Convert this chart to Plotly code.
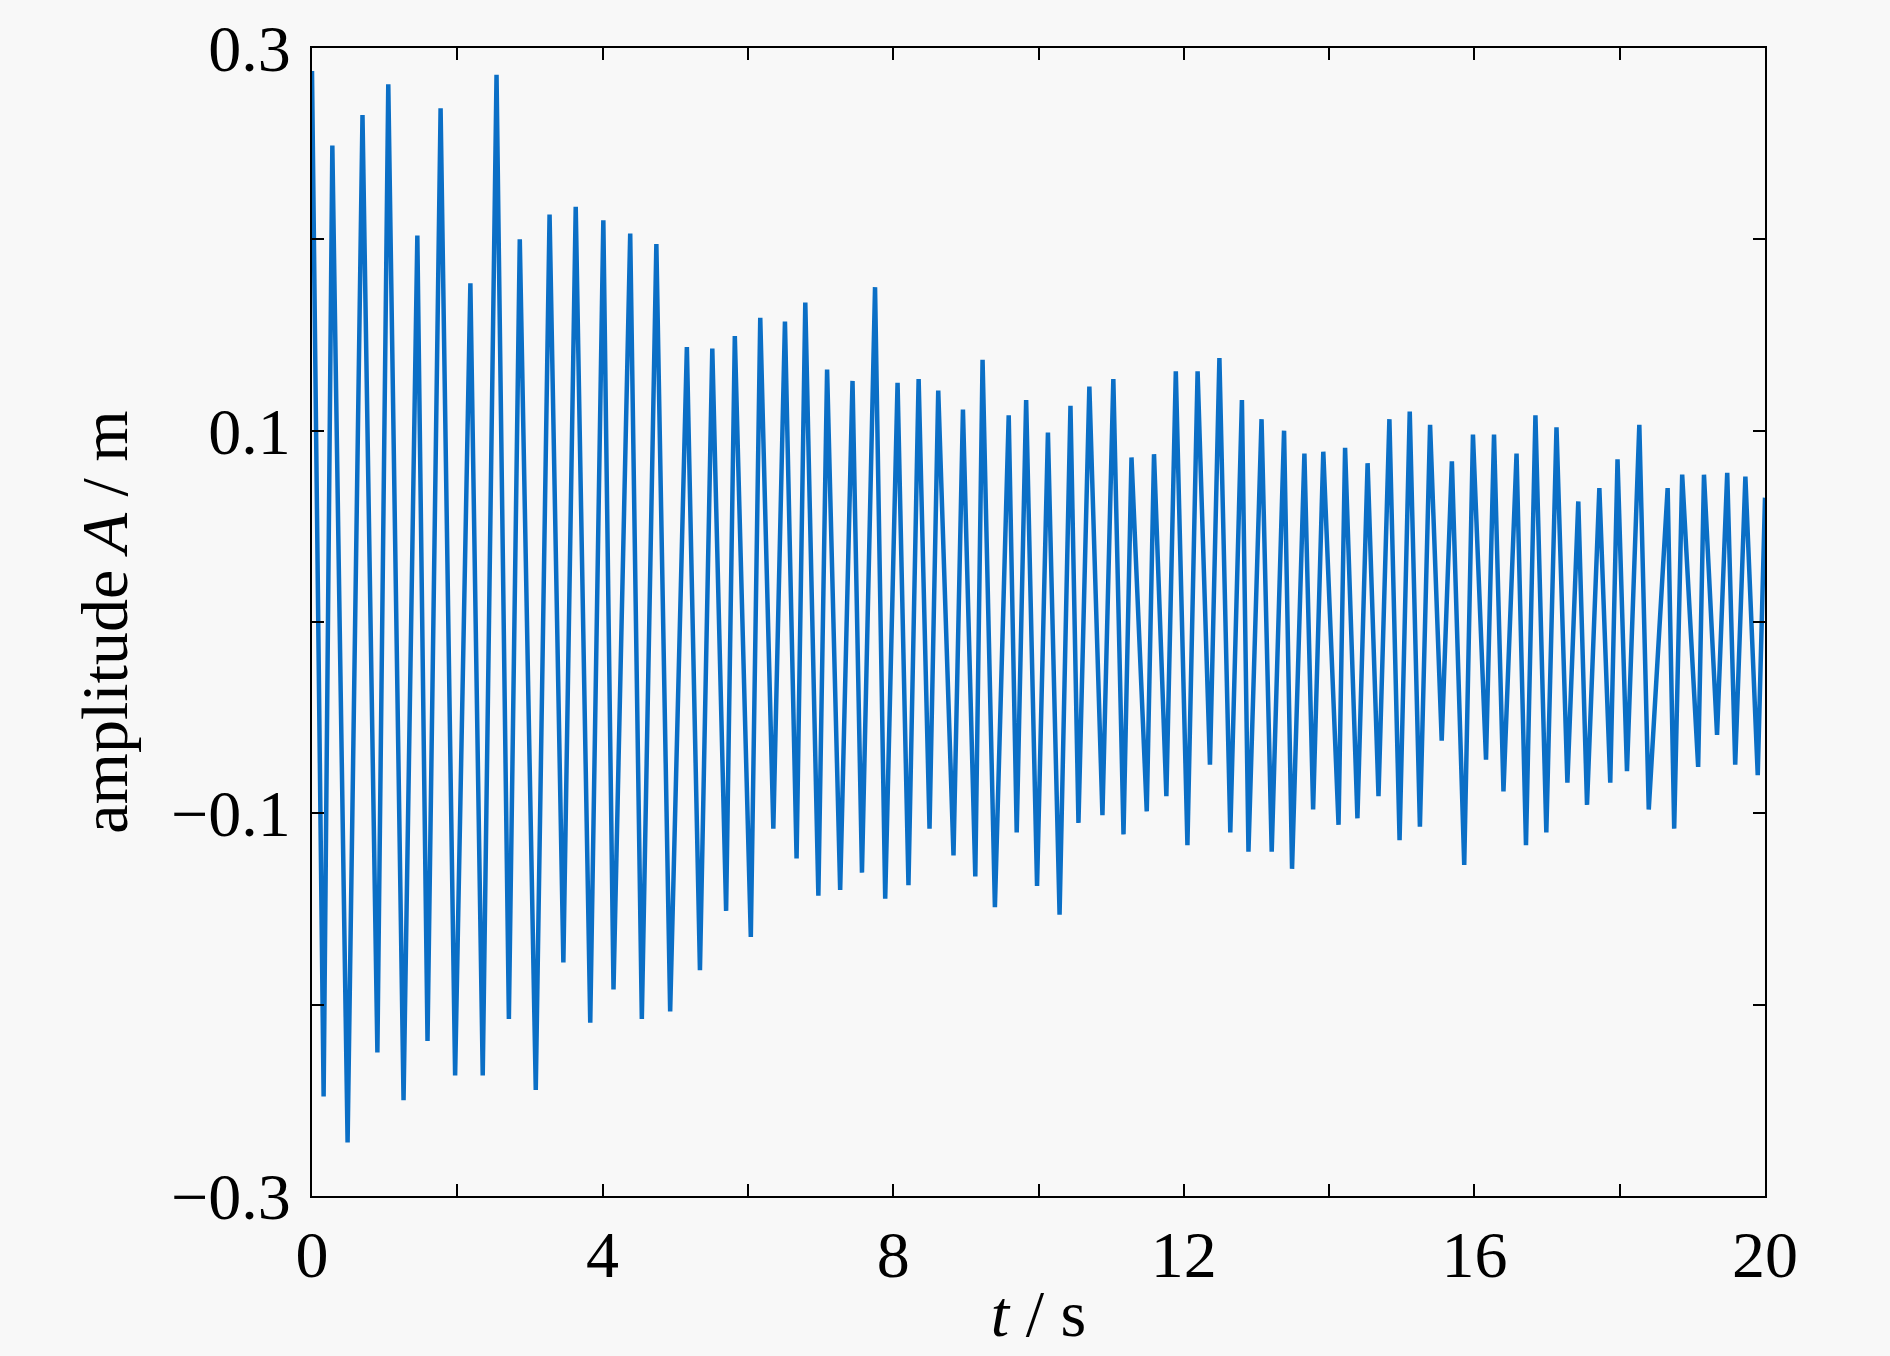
import plotly.graph_objects as go

# extremes (peaks / troughs), in time order
t_s = [0.00, 0.16, 0.28, 0.49, 0.695, 0.90, 1.05, 1.26, 1.45, 1.59, 1.77, 1.97, 2.18, 2.35, 2.54, 2.71,
       2.86, 3.08, 3.27, 3.46, 3.63, 3.83, 4.01, 4.15, 4.38, 4.54, 4.74, 4.93, 5.16, 5.34, 5.51, 5.70,
       5.82, 6.04, 6.17, 6.35, 6.51, 6.67, 6.79, 6.97, 7.09, 7.27, 7.44, 7.57, 7.75, 7.89, 8.06, 8.21,
       8.35, 8.50, 8.62, 8.83, 8.96, 9.13, 9.23, 9.40, 9.59, 9.70, 9.83, 9.98, 10.13, 10.29, 10.44, 10.55,
       10.70, 10.88, 11.03, 11.17, 11.28, 11.49, 11.59, 11.76, 11.89, 12.05, 12.19, 12.36, 12.49, 12.64,
       12.80, 12.89, 13.07, 13.21, 13.38, 13.49, 13.66, 13.78, 13.92, 14.13, 14.22, 14.39, 14.53, 14.68,
       14.83, 14.97, 15.11, 15.25, 15.39, 15.55, 15.69, 15.86, 15.98, 16.16, 16.27, 16.40, 16.58, 16.71,
       16.84, 16.99, 17.13, 17.28, 17.43, 17.55, 17.72, 17.87, 17.97, 18.10, 18.27, 18.40, 18.66, 18.75,
       18.86, 19.08, 19.16, 19.34, 19.48, 19.59, 19.73, 19.90, 20.00]
amp_m = [0.288, -0.248, 0.249, -0.272, 0.265, -0.225, 0.281, -0.250, 0.202, -0.219, 0.2685, -0.237,
         0.177, -0.237, 0.286, -0.2075, 0.200, -0.2446, 0.213, -0.178, 0.217, -0.2094, 0.210, -0.192,
         0.203, -0.2075, 0.1975, -0.2036, 0.1437, -0.182, 0.1429, -0.151, 0.1495, -0.1646, 0.159, -0.108,
         0.157, -0.1236, 0.167, -0.143, 0.132, -0.140, 0.126, -0.131, 0.175, -0.1446, 0.125, -0.1376,
         0.127, -0.108, 0.121, -0.122, 0.111, -0.133, 0.137, -0.149, 0.108, -0.110, 0.116, -0.138,
         0.099, -0.153, 0.113, -0.105, 0.123, -0.101, 0.127, -0.111, 0.086, -0.099, 0.0877, -0.091,
         0.131, -0.1166, 0.131, -0.0746, 0.138, -0.110, 0.116, -0.120, 0.106, -0.120, 0.100, -0.129,
         0.088, -0.098, 0.089, -0.106, 0.091, -0.1026, 0.083, -0.091, 0.106, -0.114, 0.110, -0.107,
         0.103, -0.062, 0.084, -0.127, 0.098, -0.072, 0.098, -0.0886, 0.088, -0.1166, 0.108, -0.110,
         0.1017, -0.084, 0.063, -0.0956, 0.070, -0.084, 0.085, -0.078, 0.103, -0.098, 0.070, -0.108,
         0.077, -0.0757, 0.077, -0.059, 0.078, -0.0746, 0.076, -0.080, 0.065]

x_tickvals = [0, 2, 4, 6, 8, 10, 12, 14, 16, 18, 20]
x_ticktext = ["0", "", "4", "", "8", "", "12", "", "16", "", "20"]
y_tickvals = [-0.3, -0.2, -0.1, 0.0, 0.1, 0.2, 0.3]
y_ticktext = ["\u22120.3", "", "\u22120.1", "", "0.1", "", "0.3"]

BG = "#f8f8f8"
FONT = "Liberation Serif"
FS = 66

fig = go.Figure()
fig.add_trace(go.Scatter(x=t_s, y=amp_m, mode="lines",
                         line=dict(color="#0b6fc6", width=4.5), showlegend=False))

axis_common = dict(showline=True, linecolor="black", linewidth=2, mirror="allticks",
                   ticks="inside", ticklen=12, tickwidth=2, tickcolor="black",
                   showgrid=False, zeroline=False,
                   tickfont=dict(family=FONT, size=FS, color="black"))

fig.update_xaxes(range=[0, 20], tickvals=x_tickvals, ticktext=x_ticktext,
                 title=dict(text="<i>t</i> / s", font=dict(family=FONT, size=FS, color="black"),
                            standoff=0),
                 **axis_common)
fig.update_yaxes(range=[-0.3, 0.3], tickvals=y_tickvals, ticktext=y_ticktext,
                 ticklabelstandoff=6,
                 title=dict(text="amplitude <i>A</i> / m", font=dict(family=FONT, size=FS, color="black"),
                            standoff=22),
                 **axis_common)

fig.update_layout(width=1890, height=1356, paper_bgcolor=BG, plot_bgcolor=BG,
                  margin=dict(l=312, r=125, t=48, b=160))

fig.write_html("out.html", config={"displayModeBar": False},
               post_script="document.body.style.margin='0';document.body.style.background='#f8f8f8';")
